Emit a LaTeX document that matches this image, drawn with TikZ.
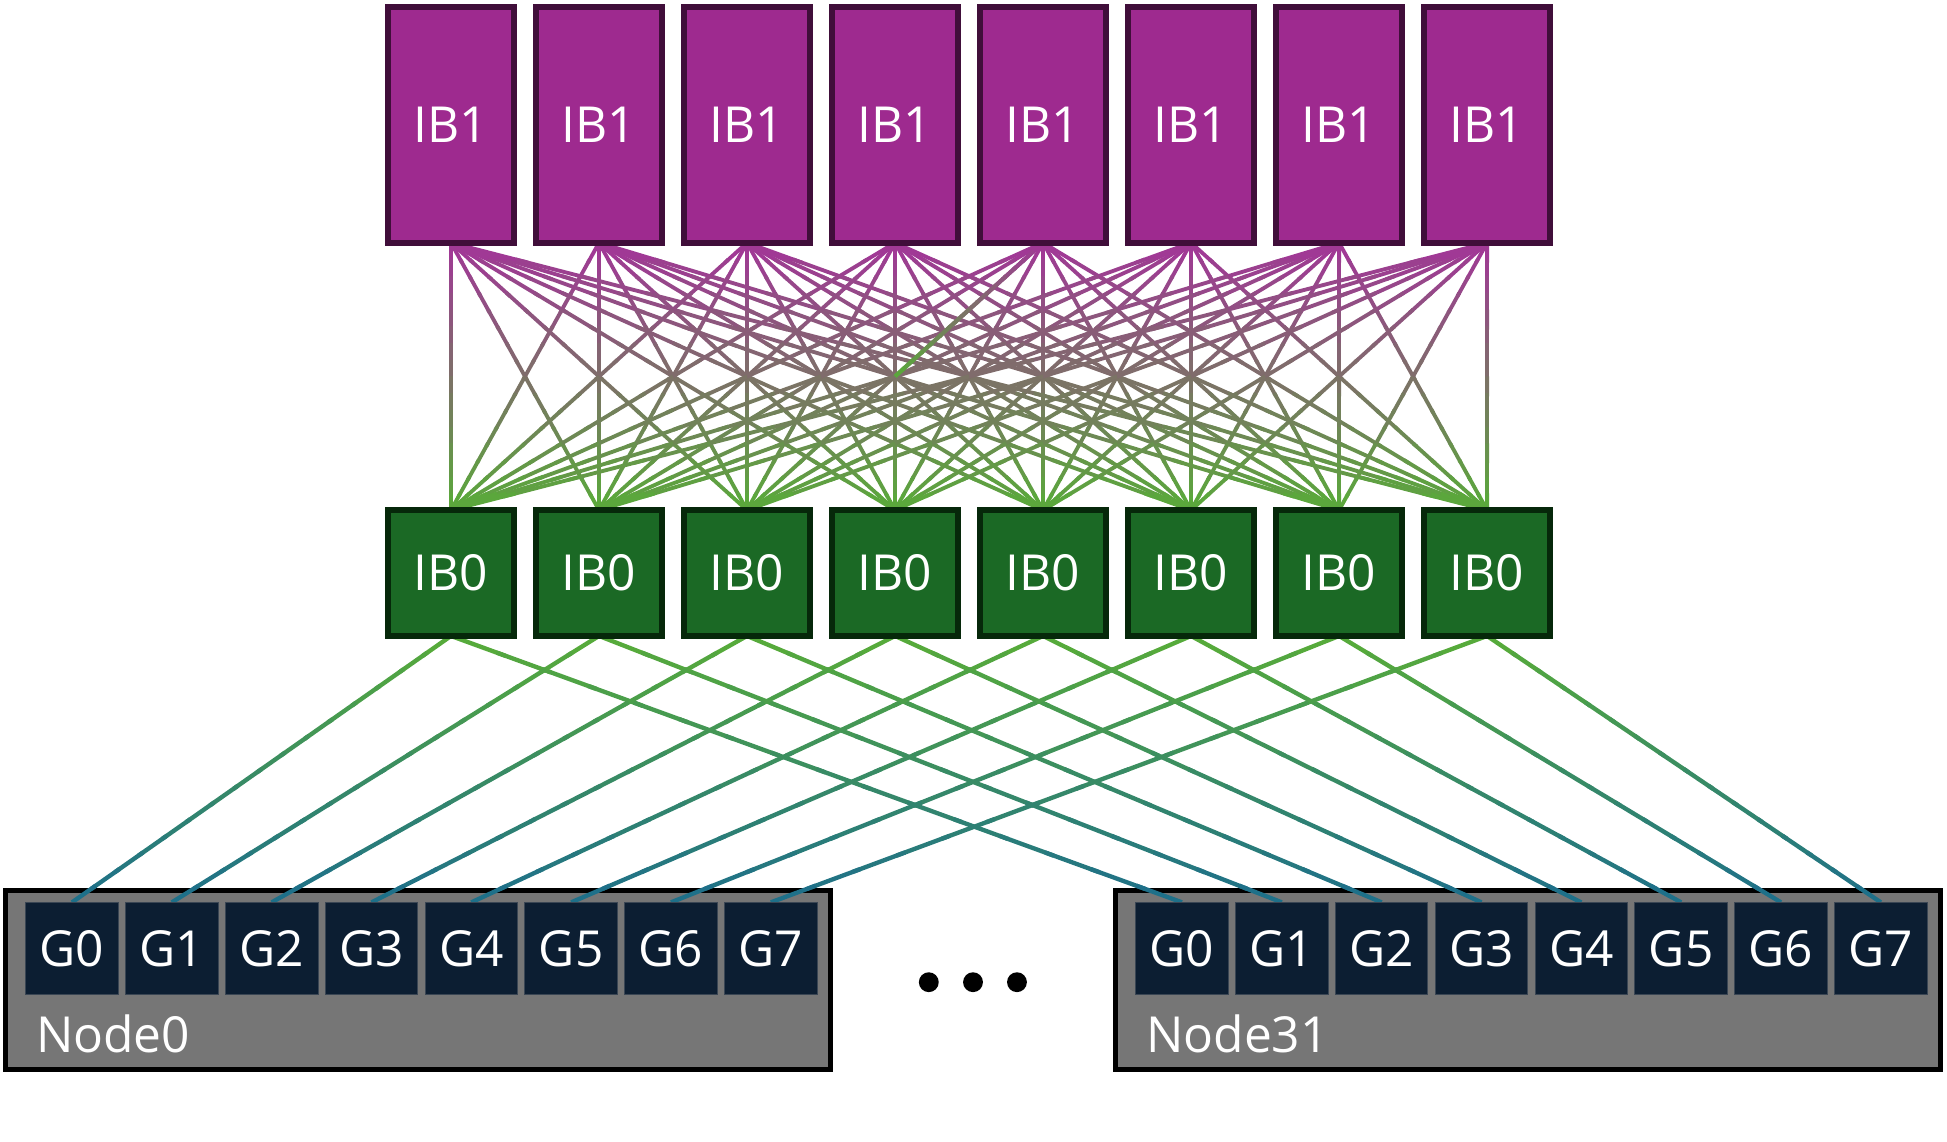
\documentclass[tikz,border=0pt]{standalone}
\usepackage{fontspec}
\setmainfont{Open Sans}
\usetikzlibrary{calc}
\pgfdeclarelayer{back}
\pgfdeclarelayer{bg}
\pgfsetlayers{back,bg,main}
\definecolor{ibonefill}{HTML}{9E2A8F}
\definecolor{ibonedraw}{HTML}{400E3A}
\definecolor{ibzerofill}{HTML}{1B6925}
\definecolor{ibzerodraw}{HTML}{06280A}
\definecolor{nodegray}{HTML}{767676}
\definecolor{gfill}{HTML}{0C1E32}
\definecolor{gdraw}{HTML}{3A4654}
\definecolor{linepurple}{HTML}{A23598}
\definecolor{linegreen}{HTML}{58AC38}
\definecolor{lineteal}{HTML}{1C6E8C}
\newcommand\gradlink[5]{%
  \foreach \k in {1,...,16}{%
    \pgfmathsetmacro\ta{(\k-1)/16}%
    \pgfmathsetmacro\tb{min(\k/16+0.012,1)}%
    \pgfmathtruncatemacro\pc{(\k-0.5)/16*100}%
    \draw[line width=#5, color={#4!\pc!#3}] ($(#1)!\ta!(#2)$) -- ($(#1)!\tb!(#2)$);
  }}
\tikzset{
  lbl/.style={text=white, font=\fontsize{20}{24}\selectfont, inner sep=0pt, outer sep=0pt},
  ibone/.style={lbl, draw=ibonedraw, fill=ibonefill, line width=2.5pt,
    minimum width=50.65pt, minimum height=94.9pt},
  ibzero/.style={lbl, draw=ibzerodraw, fill=ibzerofill, line width=2.5pt,
    minimum width=50.65pt, minimum height=50.65pt},
  gpu/.style={lbl, draw=gdraw, fill=gfill, line width=0.4pt,
    minimum width=37.3pt, minimum height=37.3pt},
  server/.style={draw=black, fill=nodegray, line width=2pt, inner sep=0pt, outer sep=0pt,
    minimum width=332.1pt, minimum height=71.9pt},
  dot/.style={circle, fill=black, inner sep=0pt, minimum size=8pt}
}
\begin{document}
\begin{tikzpicture}[x=0.5pt, y=-0.5pt]
\useasboundingbox (0,0) rectangle (1568,919);
% servers
\begin{pgfonlayer}{back}
\node[server] (n0) at (336.5,789.4) {};
\node[server] (n31) at (1230.7,789.4) {};
\end{pgfonlayer}
\node[lbl, anchor=base west] (n0l) at (29,847.8) {Node0};
\node[lbl, anchor=base west] (n31l) at (923,847.8) {Node31};
% switches and gpus
\foreach \i in {1,...,8}{
  \pgfmathsetmacro\cx{363.2+119.2*(\i-1)}
  \node[ibone] (t\i) at (\cx,100.6) {IB1};
  \node[ibzero] (b\i) at (\cx,461.5) {IB0};
  \pgfmathtruncatemacro\gi{\i-1}
  \pgfmathsetmacro\ga{58+80.4*(\i-1)}
  \pgfmathsetmacro\gb{951.9+80.4*(\i-1)}
  \node[gpu] (ga\i) at (\ga,764) {G\gi};
  \node[gpu] (gb\i) at (\gb,764) {G\gi};
}
% dots
\node[dot] (d1) at (748,791) {};
\node[dot] (d2) at (783.6,791) {};
\node[dot] (d3) at (819,791) {};
% links
\begin{pgfonlayer}{bg}
\foreach \i in {1,...,8}{
  \foreach \j in {1,...,8}{
    \gradlink{t\i.south}{b\j.north}{linepurple}{linegreen}{1.55pt}
  }
}
\gradlink{t5.south}{$(t5.south)!0.5!(b3.north)$}{linepurple}{linegreen}{1.7pt}
\foreach \i in {1,...,8}{
  \gradlink{b\i.south}{ga\i.north}{linegreen}{lineteal}{1.75pt}
  \gradlink{b\i.south}{gb\i.north}{linegreen}{lineteal}{1.75pt}
}
\end{pgfonlayer}
\end{tikzpicture}
\end{document}
